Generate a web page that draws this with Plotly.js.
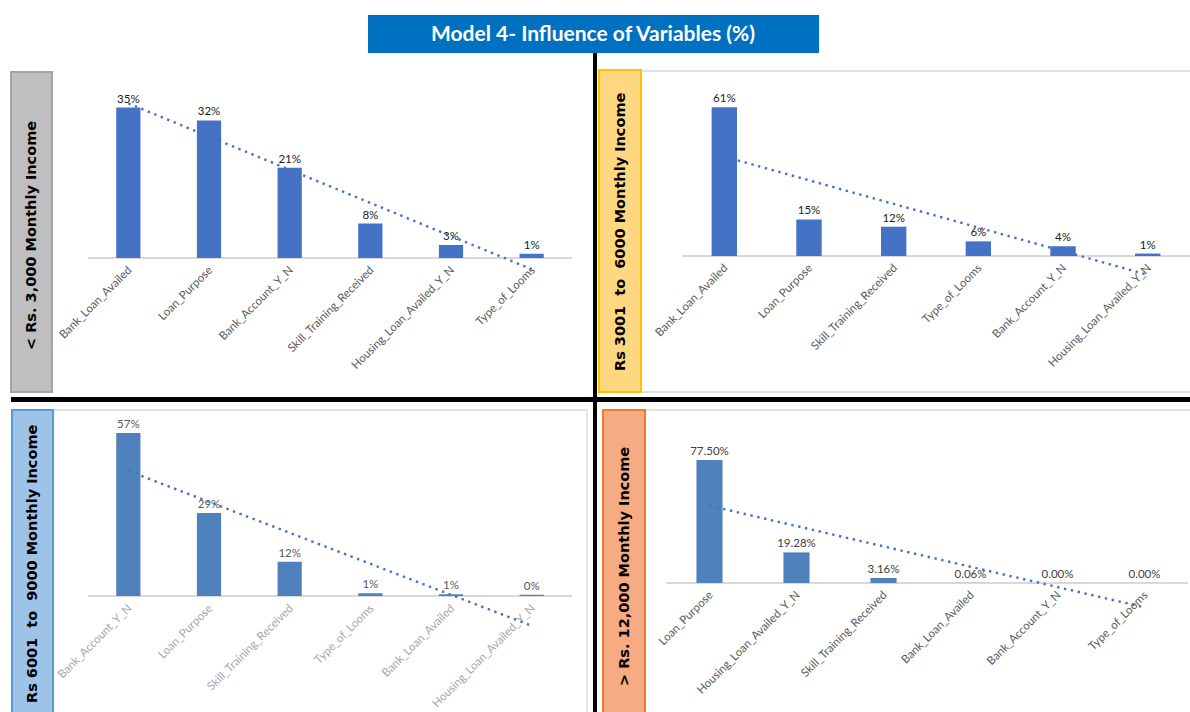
<!DOCTYPE html>
<html><head><meta charset="utf-8">
<script src="https://cdn.plot.ly/plotly-3.0.1.min.js"></script>
<style>html,body{margin:0;padding:0;background:#fff}</style>
</head><body><div id="chart" style="width:1190px;height:712px"></div>
<script>
// ---------- DATA ----------
const titleText = 'Model 4- Influence of Variables (%)';
const panelLabels = ['< Rs. 3,000 Monthly Income', 'Rs 3001\u00A0 to\u00A0 6000 Monthly Income',
                     'Rs 6001\u00A0 to\u00A0 9000 Monthly Income', '> Rs. 12,000 Monthly Income'];

const catsTL = ['Bank_Loan_Availed','Loan_Purpose','Bank_Account_Y_N','Skill_Training_Received','Housing_Loan_Availed_Y_N','Type_of_Looms'];
const valsTL = [35, 32, 21, 8, 3, 1];

const catsTR = ['Bank_Loan_Availed','Loan_Purpose','Skill_Training_Received','Type_of_Looms','Bank_Account_Y_N','Housing_Loan_Availed_Y_N'];
const valsTR = [61, 15, 12, 6, 4, 1];

const catsBL = ['Bank_Account_Y_N','Loan_Purpose','Skill_Training_Received','Type_of_Looms','Bank_Loan_Availed','Housing_Loan_Availed_Y_N'];
const valsBL = [57, 29, 12, 1, 0.6, 0.4];

const catsBR = ['Loan_Purpose','Housing_Loan_Availed_Y_N','Skill_Training_Received','Bank_Loan_Availed','Bank_Account_Y_N','Type_of_Looms'];
const valsBR = [77.50, 19.28, 3.16, 0.06, 0.00, 0.00];

// ---------- LAYOUT HELPERS ----------
const W = 1190, H = 712;
const px = x => x / W;
const py = y => 1 - y / H;
const FONT = 'Lato, "Open Sans", sans-serif';

function trend(vals){
  const n = vals.length, xs = vals.map((_, i) => i + 1);
  const mx = xs.reduce((a,b)=>a+b,0)/n, my = vals.reduce((a,b)=>a+b,0)/n;
  let sxy = 0, sxx = 0;
  xs.forEach((x,i)=>{ sxy += (x-mx)*(vals[i]-my); sxx += (x-mx)*(x-mx); });
  const s = sxy / sxx;
  return xs.map(x => my + s*(x-mx));
}

const panels = [
  {cats: catsTL, vals: valsTL, fmt: v => Math.round(v)+'%', x0: 88, x1: 572, zero: 258, scale: 4.3, ymin: -3.5, ymax: 42,
   bar: '#4472C4', valColor: '#1a1a1a', tickColor: '#595959'},
  {cats: catsTR, vals: valsTR, fmt: v => Math.round(v)+'%', x0: 682, x1: 1190, zero: 256, scale: 2.44, ymin: -9, ymax: 66,
   bar: '#4472C4', valColor: '#1a1a1a', tickColor: '#595959'},
  {cats: catsBL, vals: valsBL, fmt: v => Math.round(v)+'%', x0: 88, x1: 572, zero: 596, scale: 2.86, ymin: -12, ymax: 61,
   bar: '#4F81BD', valColor: '#595959', tickColor: '#A6A6A6'},
  {cats: catsBR, vals: valsBR, fmt: v => v.toFixed(2)+'%', x0: 666, x1: 1188, zero: 583, scale: 1.587, ymin: -17, ymax: 84,
   bar: '#4F81BD', valColor: '#404040', tickColor: '#595959'}
];

const data = [];
const layout = {
  width: W, height: H, autosize: false,
  margin: {l: 0, r: 0, t: 0, b: 0},
  paper_bgcolor: '#ffffff', plot_bgcolor: 'rgba(0,0,0,0)',
  showlegend: false, bargap: 0.7, hovermode: false,
  font: {family: FONT, size: 11, color: '#595959'},
  title: {text: '<b>' + titleText + '</b>', font: {family: FONT, size: 21, color: '#ffffff'},
          x: px(593), xanchor: 'center', xref: 'paper', y: py(34), yanchor: 'middle', yref: 'paper'},
  shapes: [], annotations: []
};

panels.forEach((p, i) => {
  const k = i === 0 ? '' : String(i + 1);
  const top = p.zero - p.ymax * p.scale;
  const bottom = p.zero - p.ymin * p.scale;
  data.push({
    type: 'bar', x: p.cats, y: p.vals, xaxis: 'x' + k, yaxis: 'y' + k,
    marker: {color: p.bar}, text: p.vals.map(p.fmt), textposition: 'outside',
    textfont: {color: p.valColor, size: 11.5, family: FONT},
    cliponaxis: false, constraintext: 'none', hoverinfo: 'skip'
  });
  data.push({
    type: 'scatter', mode: 'lines', x: p.cats, y: trend(p.vals), xaxis: 'x' + k, yaxis: 'y' + k,
    line: {color: '#4472C4', width: 2.4, dash: '2.4px,4.6px'}, hoverinfo: 'skip'
  });
  layout['xaxis' + k] = {
    type: 'category', domain: [px(p.x0), px(p.x1)], range: [-0.5, p.cats.length - 0.5], anchor: 'y' + k,
    tickangle: -45, tickfont: {size: 11.5, color: p.tickColor, family: FONT},
    showgrid: false, showline: false, zeroline: false, ticks: '', automargin: false, fixedrange: true,
    ticklabelstandoff: Math.round(p.ymin * p.scale) + 2
  };
  layout['yaxis' + k] = {
    domain: [py(bottom), py(top)], range: [p.ymin, p.ymax], anchor: 'x' + k,
    showticklabels: false, showgrid: false, showline: false, ticks: '',
    zeroline: true, zerolinecolor: '#D9D9D9', zerolinewidth: 1.6, fixedrange: true, automargin: false
  };
});

// boxes and frames
const rect = (x0, y0, x1, y1, fill, line, lw) => ({type: 'rect', xref: 'paper', yref: 'paper',
  x0: px(x0), x1: px(x1), y0: py(y1), y1: py(y0), fillcolor: fill, line: {color: line, width: lw}, layer: 'below'});

layout.shapes.push(rect(368, 15, 819, 53, '#0070C0', '#0070C0', 0));
// chart frames
layout.shapes.push(rect(641, 71, 1192, 392, 'rgba(0,0,0,0)', '#D9D9D9', 1.3));
layout.shapes.push(rect(53, 410, 587, 716, 'rgba(0,0,0,0)', '#D9D9D9', 1.3));
layout.shapes.push(rect(645, 410, 1192, 716, 'rgba(0,0,0,0)', '#D9D9D9', 1.3));
// side label boxes
layout.shapes.push(rect(11, 72, 52, 392, '#BFBFBF', '#A5A5A5', 2));
layout.shapes.push(rect(599, 70, 641, 392, '#FFD780', '#FFC000', 2));
layout.shapes.push(rect(12, 410, 53, 716, '#9DC3E6', '#5B9BD5', 2));
layout.shapes.push(rect(603, 410, 645, 716, '#F6AB82', '#ED7D31', 2));
// black dividers
layout.shapes.push({type: 'rect', xref: 'paper', yref: 'paper', x0: px(593), x1: px(597), y0: py(712), y1: py(53),
  fillcolor: '#000', line: {width: 0}, layer: 'above'});
layout.shapes.push({type: 'rect', xref: 'paper', yref: 'paper', x0: px(11), x1: px(1190), y0: py(402), y1: py(397),
  fillcolor: '#000', line: {width: 0}, layer: 'above'});

const labelPos = [[31, 236], [620, 232], [32, 564], [624, 567]];
panelLabels.forEach((t, i) => {
  layout.annotations.push({text: '<b>' + t + '</b>', xref: 'paper', yref: 'paper',
    x: px(labelPos[i][0]), y: py(labelPos[i][1]), xanchor: 'center', yanchor: 'middle',
    textangle: -90, showarrow: false, font: {family: '"DejaVu Sans", Verdana, sans-serif', size: 14.5, color: '#000'}});
});

Plotly.newPlot('chart', data, layout, {displayModeBar: false, staticPlot: true});
</script></body></html>
